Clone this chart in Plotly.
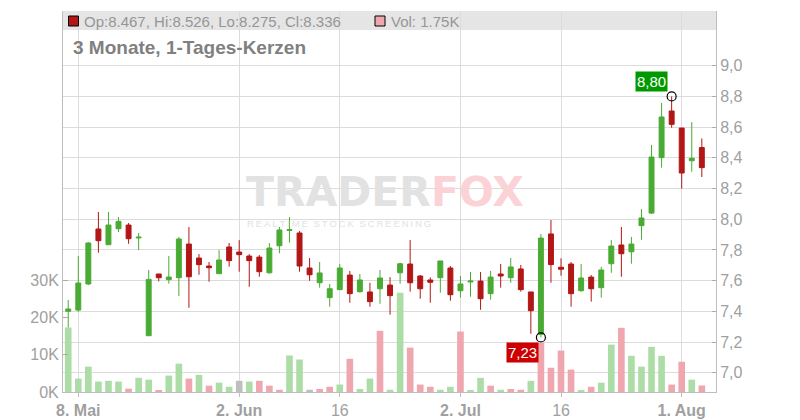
import plotly.graph_objects as go

# ---------------- data ----------------
dates = [
    "2025-05-07", "2025-05-08", "2025-05-09", "2025-05-12", "2025-05-13", "2025-05-14", "2025-05-15",
    "2025-05-16", "2025-05-19", "2025-05-20", "2025-05-21", "2025-05-22", "2025-05-23", "2025-05-26",
    "2025-05-27", "2025-05-28", "2025-05-30", "2025-06-02", "2025-06-03", "2025-06-04", "2025-06-05",
    "2025-06-06", "2025-06-09", "2025-06-10", "2025-06-11", "2025-06-12", "2025-06-13", "2025-06-16",
    "2025-06-17", "2025-06-18", "2025-06-19", "2025-06-20", "2025-06-23", "2025-06-24", "2025-06-25",
    "2025-06-26", "2025-06-27", "2025-06-30", "2025-07-01", "2025-07-02", "2025-07-03", "2025-07-04",
    "2025-07-07", "2025-07-08", "2025-07-09", "2025-07-10", "2025-07-11", "2025-07-14", "2025-07-15",
    "2025-07-16", "2025-07-17", "2025-07-18", "2025-07-21", "2025-07-22", "2025-07-23", "2025-07-24",
    "2025-07-25", "2025-07-28", "2025-07-29", "2025-07-30", "2025-07-31", "2025-08-01", "2025-08-04",
    "2025-08-05",
]

opens = [7.400, 7.408, 7.578, 7.936, 7.834, 7.938, 7.962, 7.878, 7.241, 7.643, 7.606, 7.619, 7.838, 7.747,
         7.695, 7.645, 7.819, 7.786, 7.760, 7.753, 7.651, 7.827, 7.927, 7.910, 7.682, 7.586, 7.489, 7.541,
         7.636, 7.528, 7.526, 7.547, 7.571, 7.651, 7.708, 7.630, 7.604, 7.619, 7.682, 7.534, 7.591, 7.597,
         7.515, 7.643, 7.619, 7.676, 7.526, 7.250, 7.904, 7.687, 7.708, 7.534, 7.623, 7.554, 7.710, 7.832,
         7.788, 7.958, 8.040, 8.401, 8.705, 8.594, 8.381, 8.467]
highs = [7.474, 7.760, 7.850, 8.047, 8.047, 8.014, 7.975, 7.910, 7.669, 7.643, 7.760, 7.884, 7.949, 7.773,
         7.721, 7.799, 7.845, 7.864, 7.773, 7.767, 7.845, 7.949, 8.014, 7.923, 7.747, 7.721, 7.578, 7.708,
         7.663, 7.643, 7.586, 7.669, 7.623, 7.717, 7.864, 7.636, 7.621, 7.728, 7.695, 7.630, 7.656, 7.656,
         7.663, 7.708, 7.747, 7.702, 7.526, 7.904, 7.995, 7.745, 7.721, 7.708, 7.636, 7.689, 7.864, 7.949,
         7.884, 8.066, 8.484, 8.757, 8.800, 8.594, 8.633, 8.526]
lows = [7.293, 7.397, 7.571, 7.782, 7.832, 7.917, 7.840, 7.799, 7.241, 7.595, 7.580, 7.500, 7.423, 7.638,
        7.593, 7.645, 7.691, 7.658, 7.560, 7.625, 7.645, 7.778, 7.847, 7.658, 7.599, 7.554, 7.430, 7.541,
        7.456, 7.521, 7.430, 7.449, 7.378, 7.580, 7.528, 7.482, 7.456, 7.521, 7.469, 7.489, 7.495, 7.410,
        7.476, 7.554, 7.586, 7.528, 7.254, 7.230, 7.586, 7.632, 7.430, 7.528, 7.463, 7.489, 7.651, 7.625,
        7.710, 7.866, 8.034, 8.336, 8.596, 8.199, 8.309, 8.275]
closes = [7.415, 7.584, 7.845, 7.860, 7.962, 7.986, 7.873, 7.883, 7.608, 7.619, 7.623, 7.871, 7.625, 7.704,
          7.684, 7.734, 7.730, 7.769, 7.730, 7.658, 7.812, 7.930, 7.932, 7.695, 7.638, 7.650, 7.547, 7.682,
          7.515, 7.604, 7.463, 7.617, 7.502, 7.710, 7.586, 7.547, 7.589, 7.728, 7.508, 7.578, 7.597, 7.482,
          7.623, 7.630, 7.689, 7.541, 7.404, 7.877, 7.704, 7.674, 7.515, 7.617, 7.547, 7.669, 7.825, 7.775,
          7.838, 8.008, 8.405, 8.666, 8.618, 8.301, 8.397, 8.336]
volumes = [17300, 3600, 6800, 2800, 3000, 2800, 900, 3800, 3300, 300, 4400, 7600, 3600, 4600,
           1700, 2500, 1400, 3000, 2800, 3000, 1700, 600, 9800, 8700, 600, 800, 1400, 2000,
           8900, 800, 3600, 16400, 600, 26600, 11900, 2000, 1400, 600, 1400, 16200, 300, 3800,
           1700, 600, 800, 600, 3000, 13200, 6500, 11100, 6000, 300, 1400, 2500, 12700, 17200,
           9700, 6800, 12100, 9700, 2000, 8100, 3300, 1750]
# u = up vs. previous close, d = down, n = unchanged
vol_dir = list("uuuuuuduuduududuunuddduundduduuduuddduuduududdudddduduuduuuuddud")

tick_dates = ["2025-05-08", "2025-06-02", "2025-06-16", "2025-07-02", "2025-07-16", "2025-08-01"]
tick_labels = ["<b>8. Mai</b>", "<b>2. Jun</b>", "16", "<b>2. Jul</b>", "16", "<b>1. Aug</b>"]
price_ticks = [7.0, 7.2, 7.4, 7.6, 7.8, 8.0, 8.2, 8.4, 8.6, 8.8, 9.0]
vol_ticks = [0, 10000, 20000, 30000]
vol_tick_labels = ["0K", "10K", "20K", "30K"]
title_text = "3 Monate, 1-Tages-Kerzen"

# ---------------- styling ----------------
GREEN = "rgb(73,171,51)"
RED = "rgb(178,22,22)"
VOL_COL = {"u": "rgb(172,221,167)", "d": "rgb(240,166,174)", "n": "rgb(190,190,190)"}
GRID = "rgb(220,220,220)"
AXIS = "rgb(190,190,190)"
FONT = "Liberation Sans, Arial, sans-serif"
TICKFONT = dict(family=FONT, size=16, color="rgb(160,160,160)")

# page body has an 8px margin: the figure is sized so it fits the 800x420 window exactly
OFF = 8
W, H = 800 - OFF, 420 - OFF
PL, PR, PT, PB = 63, 716, 11, 392   # plot area in window pixels

fig = go.Figure()

fig.add_trace(go.Candlestick(
    x=dates, open=opens, high=highs, low=lows, close=closes,
    increasing=dict(line=dict(color=GREEN, width=1), fillcolor=GREEN),
    decreasing=dict(line=dict(color=RED, width=1), fillcolor=RED),
    whiskerwidth=0, hoverinfo="skip", showlegend=False, yaxis="y",
))

hi_i = max(range(len(highs)), key=lambda i: highs[i])
lo_i = min(range(len(lows)), key=lambda i: lows[i])
fig.add_trace(go.Scatter(
    x=[dates[hi_i], dates[lo_i]], y=[highs[hi_i], lows[lo_i]], mode="markers",
    marker=dict(symbol="circle-open", size=9, color="black", line=dict(width=1.2, color="black")),
    hoverinfo="skip", showlegend=False, yaxis="y",
))

fig.add_trace(go.Bar(
    x=dates, y=volumes, marker=dict(color=[VOL_COL[d] for d in vol_dir], line=dict(width=0)),
    width=0.66, hoverinfo="skip", showlegend=False, yaxis="y2",
))

fig.update_layout(
    width=W, height=H,
    margin=dict(l=PL - OFF, r=800 - PR, t=PT - OFF, b=420 - PB, autoexpand=False),
    paper_bgcolor="white", plot_bgcolor="white",
    showlegend=False,
    xaxis=dict(
        type="category", range=[-0.52, 64.41], rangeslider=dict(visible=False),
        tickvals=tick_dates, ticktext=tick_labels, tickfont=TICKFONT,
        showgrid=True, gridcolor=GRID, gridwidth=1,
        showline=True, linecolor=AXIS, linewidth=1,
        ticks="outside", ticklen=4, tickcolor=AXIS, zeroline=False,
    ),
    yaxis=dict(
        side="right", range=[6.8743, 9.3564], tickvals=price_ticks,
        ticktext=[f"{v:.1f}".replace(".", ",") for v in price_ticks], tickfont=TICKFONT,
        showgrid=True, gridcolor=GRID, gridwidth=1, zeroline=False,
        showline=True, linecolor=AXIS, linewidth=1,
        ticks="inside", ticklen=4, tickcolor="rgb(170,170,170)",
    ),
    yaxis2=dict(
        overlaying="y", side="left", range=[0, 102100], tickvals=vol_ticks,
        ticktext=vol_tick_labels, tickfont=TICKFONT, showgrid=False, zeroline=False,
        showline=True, linecolor=AXIS, linewidth=1,
        ticks="inside", ticklen=5, tickcolor="rgb(170,170,170)",
    ),
)


def px_x(p):
    return (p - PL) / float(PR - PL)


def px_y(p):
    return (PB - p) / float(PB - PT)


shapes = [
    # header band
    dict(type="rect", xref="paper", yref="paper", x0=0, x1=1, y0=px_y(30), y1=px_y(11),
         fillcolor="rgb(229,229,229)", line=dict(width=0), layer="below"),
    # legend swatches
    dict(type="rect", xref="paper", yref="paper", x0=px_x(68.5), x1=px_x(78.5), y0=px_y(26), y1=px_y(16),
         fillcolor=RED, line=dict(color="black", width=1)),
    dict(type="rect", xref="paper", yref="paper", x0=px_x(375), x1=px_x(385), y0=px_y(26), y1=px_y(16),
         fillcolor=VOL_COL["d"], line=dict(color="black", width=1)),
]

last = len(dates) - 1
ohlc_text = f"Op:{opens[last]:.3f}, Hi:{highs[last]:.3f}, Lo:{lows[last]:.3f}, Cl:{closes[last]:.3f}"
vol_text = f"Vol: {volumes[last] / 1000:.2f}K"

sub = ("\u2009".join("REALTIME") + "\u2009\u2009\u2009" + "\u2009".join("STOCK") + "\u2009\u2009\u2009"
       + "\u2009".join("SCREENING"))

annotations = [
    dict(text=ohlc_text, xref="paper", yref="paper", x=px_x(82), y=px_y(21), xanchor="left",
         yanchor="middle", showarrow=False, font=dict(family=FONT, size=15, color="rgb(150,150,150)")),
    dict(text=vol_text, xref="paper", yref="paper", x=px_x(389), y=px_y(21), xanchor="left",
         yanchor="middle", showarrow=False, font=dict(family=FONT, size=15, color="rgb(150,150,150)")),
    dict(text=f"<b>{title_text}</b>", xref="paper", yref="paper", x=px_x(71), y=px_y(47), xanchor="left",
         yanchor="middle", showarrow=False, font=dict(family=FONT, size=19, color="rgb(128,128,128)")),
    # watermark
    dict(text="<b><span style='color:rgb(226,226,226)'>TRADER</span>"
              "<span style='color:rgb(251,210,214)'>FOX</span></b>",
         xref="paper", yref="paper", x=px_x(385), y=px_y(191.5), xanchor="center", yanchor="middle",
         showarrow=False, font=dict(family="DejaVu Sans, sans-serif", size=41)),
    dict(text=sub, xref="paper", yref="paper", x=px_x(339), y=px_y(223), xanchor="center", yanchor="middle",
         showarrow=False, font=dict(family=FONT, size=9.5, color="rgb(226,226,226)")),
    # high / low labels
    dict(text=f"{highs[hi_i]:.2f}".replace(".", ","), x=dates[hi_i], y=highs[hi_i], xref="x", yref="y",
         xanchor="right", yanchor="bottom", xshift=-4, yshift=4, showarrow=False,
         bgcolor="rgb(0,153,0)", borderpad=1, font=dict(family=FONT, size=15, color="white")),
    dict(text=f"{lows[lo_i]:.2f}".replace(".", ","), x=dates[lo_i], y=lows[lo_i], xref="x", yref="y",
         xanchor="right", yanchor="top", xshift=-2, yshift=-5, showarrow=False,
         bgcolor="rgb(204,0,0)", borderpad=1, font=dict(family=FONT, size=15, color="white")),
]

fig.update_layout(shapes=shapes, annotations=annotations)

fig.write_html("out.html")
